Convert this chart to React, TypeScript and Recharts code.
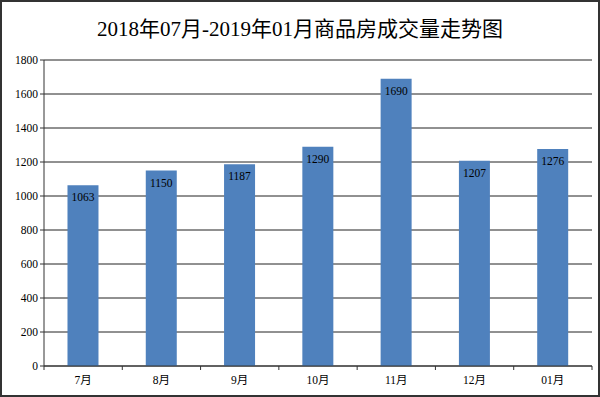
import React from "react";
import { BarChart, Bar, XAxis, YAxis, CartesianGrid, LabelList } from "recharts";

const categories = ["7月", "8月", "9月", "10月", "11月", "12月", "01月"];
const volumes = [1063, 1150, 1187, 1290, 1690, 1207, 1276];
const yTicks = [0, 200, 400, 600, 800, 1000, 1200, 1400, 1600, 1800];
const title = "2018年07月-2019年01月商品房成交量走势图";

const data = categories.map((c, i) => ({ name: c, value: volumes[i] }));

const W = 600;
const H = 397;
const M = { top: 60, right: 8, bottom: 6, left: 0 };
const YW = 44;
const XH = 25;
const band = (W - M.left - M.right - YW) / categories.length;
const font = "'Liberation Serif', 'DejaVu Serif', 'Noto Sans CJK SC', serif";

const XTick = (props: any) => {
  const { x, y, payload, index } = props;
  const left = x - band / 2;
  return (
    <g>
      <line x1={left} y1={y - 8} x2={left} y2={y - 4} stroke="#333" />
      {index === categories.length - 1 && (
        <line x1={left + band} y1={y - 8} x2={left + band} y2={y - 4} stroke="#333" />
      )}
      <text x={x} y={y + 10} textAnchor="middle" fontSize={11.5} fontFamily={font} fill="#000">
        {payload.value}
      </text>
    </g>
  );
};

export default function App() {
  return (
    <div
      style={{
        position: "absolute",
        left: 0,
        top: 0,
        width: W,
        height: H,
        boxSizing: "border-box",
        border: "2px solid #333",
        background: "#fff",
      }}
    >
      <div
        style={{
          position: "absolute",
          left: 0,
          top: 10,
          width: W - 4,
          textAlign: "center",
          fontFamily: font,
          fontSize: 21,
          color: "#000",
        }}
      >
        {title}
      </div>
      <div style={{ position: "absolute", left: -2, top: -2 }}>
        <BarChart width={W} height={H} data={data} margin={M} barCategoryGap="30%">
          <CartesianGrid vertical={false} stroke="#222" strokeOpacity={1} />
          <XAxis
            dataKey="name"
            height={XH}
            stroke="#333"
            tickLine={false}
            tick={<XTick />}
            interval={0}
          />
          <YAxis
            width={YW}
            domain={[0, 1800]}
            ticks={yTicks}
            stroke="#333"
            tickSize={4}
            tick={{ fontSize: 11.5, fontFamily: font, fill: "#000" }}
            interval={0}
          />
          <Bar dataKey="value" fill="#4f81bd" isAnimationActive={false}>
            <LabelList
              dataKey="value"
              position="insideTop"
              offset={8}
              style={{ fontSize: 11.5, fontFamily: font, fill: "#000" }}
            />
          </Bar>
        </BarChart>
      </div>
    </div>
  );
}
